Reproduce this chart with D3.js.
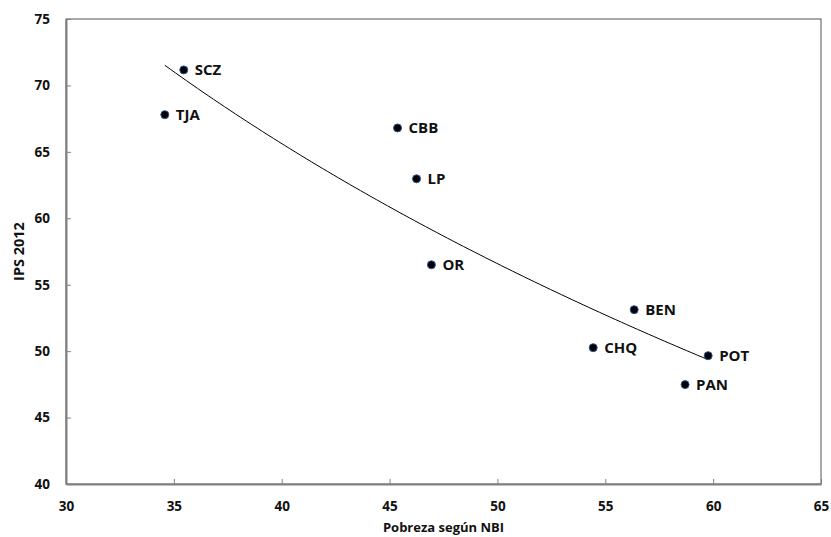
<!DOCTYPE html>
<html><head><meta charset="utf-8">
<script src="https://cdn.jsdelivr.net/npm/d3@7"></script>
<style>body{margin:0;background:#fff}svg{display:block}text{font-family:"Open Sans",Lato,sans-serif;font-weight:bold;fill:#111}</style>
</head><body>
<svg id="c" width="831" height="537"></svg>
<script>
const labels = ["SCZ","TJA","CBB","LP","OR","BEN","CHQ","POT","PAN"];
const pobreza = [35.46,34.58,45.37,46.25,46.94,56.34,54.44,59.77,58.70];
const ips = [71.17,67.80,66.80,62.97,56.50,53.12,50.26,49.66,47.48];
const xTicks = [30,35,40,45,50,55,60,65];
const yTicks = [40,45,50,55,60,65,70,75];

const svg = d3.select("#c");
const x = d3.scaleLinear().domain([30,65]).range([66, 821]);
const y = d3.scaleLinear().domain([40,75]).range([484, 19]);
const FONT = "'Open Sans', Lato, sans-serif";

svg.append("rect").attr("x", x(30)).attr("y", y(75)).attr("width", x(65)-x(30)).attr("height", y(40)-y(75))
  .attr("fill","none").attr("stroke","#555").attr("stroke-width",1);

const xa = svg.append("g").attr("transform",`translate(0,${y(40)})`)
  .call(d3.axisBottom(x).tickValues(xTicks).tickSizeInner(-5).tickSizeOuter(0).tickPadding(16));
const ya = svg.append("g").attr("transform",`translate(${x(30)},0)`)
  .call(d3.axisLeft(y).tickValues(yTicks).tickSizeInner(-5).tickSizeOuter(0).tickPadding(16));
[xa,ya].forEach(a=>{
  a.select(".domain").attr("stroke","#808080").attr("stroke-width",2);
  a.selectAll(".tick line").attr("stroke","#808080");
  a.selectAll(".tick text").attr("font-size",13.5).attr("font-family",FONT).attr("font-weight","bold").attr("fill","#111");
});
xa.selectAll(".tick text").attr("dy","0.85em");

// logarithmic trendline (least squares on ln x)
const lx = pobreza.map(Math.log);
const mx = d3.mean(lx), my = d3.mean(ips);
const b = d3.sum(lx.map((v,i)=>(v-mx)*(ips[i]-my))) / d3.sum(lx.map(v=>(v-mx)**2));
const a = my - b*mx;
const x0 = d3.min(pobreza), x1 = d3.max(pobreza);
const pts = d3.range(0,101).map(i=>{const xv = x0 + (x1-x0)*i/100; return [xv, a + b*Math.log(xv)];});
svg.append("path").attr("d", d3.line().x(d=>x(d[0])).y(d=>y(d[1]))(pts))
  .attr("fill","none").attr("stroke","#000").attr("stroke-width",1);

svg.selectAll("circle.p").data(labels).join("circle").attr("class","p")
  .attr("cx",(d,i)=>x(pobreza[i])).attr("cy",(d,i)=>y(ips[i])).attr("r",4)
  .attr("fill","#000").attr("stroke","#2f5597").attr("stroke-width",1);
svg.selectAll("text.lab").data(labels).join("text").attr("class","lab")
  .attr("x",(d,i)=>x(pobreza[i])+11).attr("y",(d,i)=>y(ips[i])).attr("dy","0.36em")
  .attr("font-size",15).text(d=>d);

svg.append("text").attr("x",(x(30)+x(65))/2).attr("y",532).attr("text-anchor","middle").attr("font-size",13).text("Pobreza según NBI");
svg.append("text").attr("transform",`translate(24,${(y(40)+y(75))/2}) rotate(-90)`).attr("text-anchor","middle").attr("font-size",14.5).text("IPS 2012");
</script>
</body></html>
